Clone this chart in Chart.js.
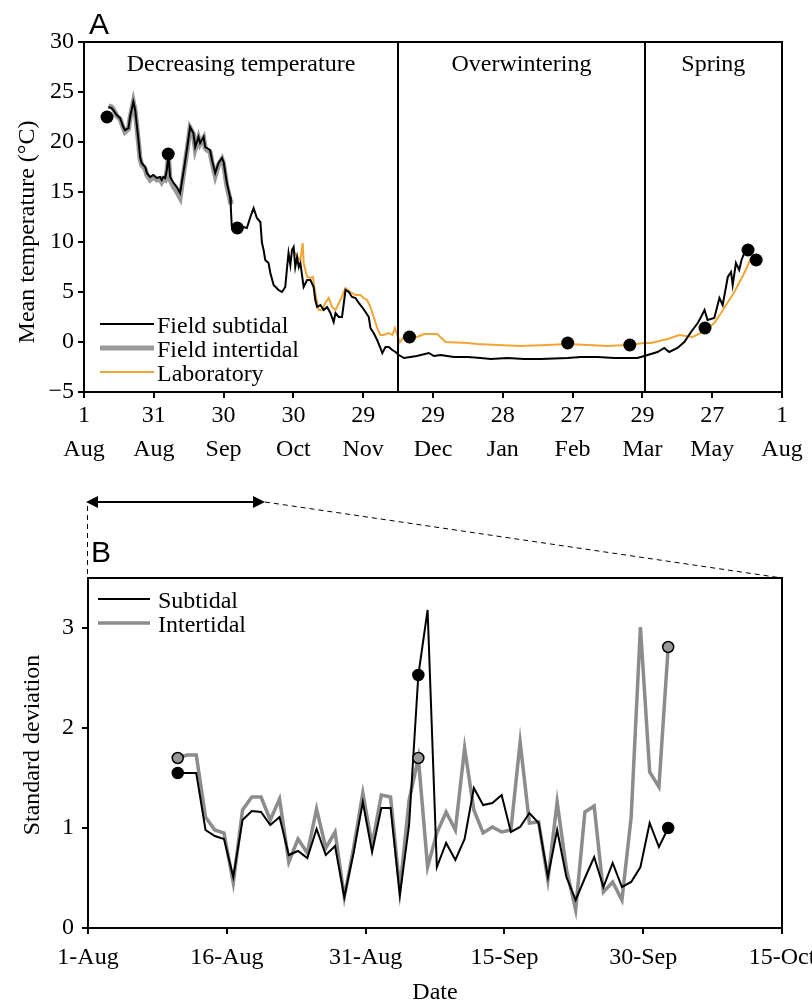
<!DOCTYPE html>
<html>
<head>
<meta charset="utf-8">
<script src="https://cdn.jsdelivr.net/npm/chart.js@4.4.1/dist/chart.umd.min.js"></script>
<style>
html, body { margin: 0; padding: 0; background: #fff; }
#wrap { position: relative; width: 812px; height: 1004px; }
canvas { position: absolute; left: 0; }
#chartA { top: 0; }
#chartB { top: 470px; }
</style>
</head>
<body>
<div id="wrap">
<canvas id="chartA" width="812" height="470"></canvas>
<canvas id="chartB" width="812" height="534"></canvas>
</div>
<script>
// ---- panel A: mean temperature ----
const aTickDays = [0, 30, 60, 90, 120, 150, 180, 210, 240, 270, 300];
const aTickLabels = [['1', 'Aug'], ['31', 'Aug'], ['30', 'Sep'], ['30', 'Oct'], ['29', 'Nov'], ['29', 'Dec'],
    ['28', 'Jan'], ['27', 'Feb'], ['29', 'Mar'], ['27', 'May'], ['1', 'Aug']];
const seasonBreaks = [135, 241];
const seasonNames = ['Decreasing temperature', 'Overwintering', 'Spring'];

const subtidalDays = [10.5, 11.9, 12.6, 14.1, 15.5, 16.9, 17.6, 19.1, 19.8, 21.2, 22.0, 23.4, 24.1, 24.8, 26.3, 27.0,
    28.4, 29.8, 31.3, 32.7, 33.4, 34.1, 34.9, 35.6, 36.3, 37.0, 38.5, 39.9, 41.3, 42.7, 44.2, 45.6, 47.0, 47.8, 49.2,
    49.9, 51.4, 52.1, 52.8, 54.2, 55.0, 56.4, 57.8, 59.3, 60.0, 61.4, 62.8, 63.1, 63.5, 65.0, 67.2, 68.6, 70.0, 71.5,
    72.9, 74.3, 75.8, 76.5, 77.2, 77.9, 79.3, 80.1, 81.5, 83.6, 85.1, 86.5, 87.3, 87.9, 88.7, 89.4, 90.1, 90.8, 91.6,
    92.3, 93.0, 94.4, 95.9, 97.3, 98.7, 99.4, 100.2, 101.6, 103.0, 104.5, 105.9, 107.3, 108.1, 109.5, 110.9, 112.4,
    113.8, 115.2, 116.7, 118.1, 119.5, 121.0, 122.4, 123.1, 124.5, 126.0, 127.4, 128.2, 129.6, 131.0, 132.5, 133.9,
    135.3, 136.8, 137.5, 140.3, 143.0, 148.2, 150.4, 153.3, 156.1, 159.0, 165.0, 170.5, 174.8, 182.0, 189.1, 196.3,
    207.8, 213.5, 220.7, 227.9, 237.9, 242.2, 246.5, 249.4, 251.5, 255.1, 258.0, 260.9, 263.8, 265.2, 266.7, 268.0,
    270.9, 273.1, 274.5, 276.7, 278.1, 278.8, 280.2, 281.6, 282.6, 283.8, 285.2];
const subtidalTemp = [23.5, 23.4, 23.2, 22.7, 22.4, 21.5, 21.2, 21.4, 22.5, 24.0, 23.2, 20.2, 18.5, 17.9, 17.5, 16.9,
    16.5, 16.7, 16.4, 16.5, 16.2, 16.5, 16.4, 17.2, 18.7, 16.5, 15.9, 15.5, 14.9, 16.9, 19.2, 21.5, 20.9, 19.5, 20.5,
    19.9, 20.5, 19.5, 19.4, 19.2, 18.2, 16.9, 17.9, 18.4, 18.0, 15.9, 14.5, 13.5, 11.6, 11.3, 11.2, 11.5, 11.4, 12.5,
    13.4, 12.4, 12.0, 9.9, 9.2, 8.2, 7.9, 6.9, 5.7, 5.2, 5.0, 5.5, 7.5, 8.9, 7.7, 9.2, 9.5, 7.5, 8.5,
    7.5, 7.9, 5.5, 6.2, 6.2, 5.5, 4.2, 3.5, 3.7, 3.2, 3.5, 2.9, 2.0, 2.9, 2.5, 2.5, 5.2,
    5.0, 4.5, 4.4, 3.9, 3.5, 3.0, 2.5, 1.4, 0.9, 0.2, -0.6, -1.1, -0.5, -0.5, -0.8, -1.0,
    -1.3, -1.5, -1.6, -1.5, -1.4, -1.1, -1.4, -1.3, -1.4, -1.5, -1.5, -1.6, -1.7, -1.6, -1.7, -1.7,
    -1.6, -1.5, -1.5, -1.6, -1.6, -1.3, -1.0, -0.6, -1.0, -0.6, 0.0, 1.0, 1.9, 2.5, 3.2, 2.2,
    2.4, 4.4, 3.7, 6.5, 7.0, 5.7, 7.9, 7.2, 8.2, 8.9, 9.2];

const intertidalDays = [10.5, 11.9, 12.6, 14.1, 15.5, 16.9, 17.6, 19.1, 19.8, 21.2, 22.0, 23.4, 24.1, 24.8, 26.3, 27.0,
    28.4, 29.8, 31.3, 32.7, 33.4, 34.1, 34.9, 35.6, 36.3, 37.0, 38.5, 39.9, 41.3, 42.7, 44.2, 45.6, 47.0, 47.8, 49.2,
    49.9, 51.4, 52.1, 52.8, 54.2, 55.0, 56.4, 57.8, 59.3, 60.0, 61.4, 62.8, 63.1];
const intertidalTemp = [23.6, 23.5, 23.3, 22.6, 22.3, 21.4, 21.0, 21.3, 22.4, 24.0, 23.1, 20.0, 18.3, 17.7, 17.3, 16.7,
    16.2, 16.5, 16.2, 16.3, 16.0, 16.3, 16.2, 17.0, 18.6, 16.2, 15.5, 15.0, 14.4, 16.7, 19.0, 21.4, 20.8, 19.3, 20.4,
    19.8, 20.4, 19.4, 19.2, 19.0, 18.0, 16.6, 17.7, 18.3, 17.8, 15.6, 14.2, 13.8];

const labDays = [90.1, 91.6, 93.0, 94.0, 94.4, 95.9, 97.3, 98.4, 99.4, 100.9, 102.3, 103.7, 105.2, 106.6, 108.1, 110.2,
    112.4, 114.5, 116.7, 118.8, 120.2, 121.7, 123.1, 124.5, 126.0, 127.4, 128.8, 131.0, 132.5, 133.6, 134.6, 135.7,
    137.5, 143.2, 146.1, 151.8, 155.4, 164.7, 169.1, 177.7, 187.7, 199.2, 207.8, 216.4, 225.0, 233.6, 240.8, 243.7,
    250.9, 255.8, 261.6, 265.2, 270.9, 273.8, 279.5, 283.8, 286.5];
const labTemp = [9.2, 8.5, 8.2, 9.9, 7.9, 6.5, 6.4, 6.5, 4.9, 3.2, 3.2, 3.9, 4.4, 3.5, 3.2, 4.2,
    5.4, 5.0, 4.7, 4.7, 4.4, 4.2, 3.5, 2.5, 1.4, 0.7, 0.7, 0.9, 0.7, 1.4, 0.7, 0.0,
    0.5, 0.5, 0.8, 0.8, 0.0, -0.1, -0.2, -0.3, -0.4, -0.3, -0.2, -0.3, -0.4, -0.3, -0.1, -0.1,
    0.3, 0.7, 0.5, 0.9, 1.9, 2.9, 5.0, 6.9, 8.3];

const sampleDays = [9.9, 36.2, 65.9, 139.9, 207.9, 234.6, 266.9, 285.4, 288.9];
const sampleTemp = [22.5, 18.8, 11.4, 0.5, -0.1, -0.3, 1.4, 9.2, 8.2];

// ---- panel B: daily standard deviation ----
const bTickDays = [0, 15, 30, 45, 60, 75];
const bTickLabels = ['1-Aug', '16-Aug', '31-Aug', '15-Sep', '30-Sep', '15-Oct'];
const bStartDay = 9.7;
const subtidalSD = [1.55, 1.55, 1.55, 0.98, 0.92, 0.89, 0.51, 1.08, 1.17, 1.16, 1.03, 1.11, 0.73, 0.77, 0.70, 0.99,
    0.73, 0.82, 0.31, 0.75, 1.26, 0.76, 1.20, 1.20, 0.33, 1.03, 2.53, 3.18, 0.61, 0.85, 0.68, 0.89, 1.40, 1.23, 1.25,
    1.33, 0.96, 1.01, 1.15, 1.05, 0.51, 0.98, 0.51, 0.28, 0.50, 0.71, 0.41, 0.65, 0.41, 0.46, 0.61, 1.05, 0.81, 1.00];
const intertidalSD = [1.70, 1.73, 1.73, 1.11, 0.98, 0.95, 0.45, 1.18, 1.31, 1.31, 1.08, 1.29, 0.66, 0.89, 0.75, 1.19,
    0.80, 0.96, 0.31, 0.80, 1.35, 0.83, 1.33, 1.31, 0.38, 1.28, 1.70, 0.61, 0.95, 1.16, 0.98, 1.80, 1.18, 0.95, 1.01,
    0.96, 0.98, 1.86, 1.05, 1.06, 0.48, 1.26, 0.59, 0.18, 1.16, 1.22, 0.36, 0.46, 0.28, 1.11, 3.01, 1.56, 1.41, 2.81];
const bSampleIdx = [0, 26, 53];

const serif = "'Liberation Serif', 'Times New Roman', serif";
const sans = "'Liberation Sans', Arial, sans-serif";
const orange = '#f2a535';
const fs = 24;

Chart.defaults.font.family = serif;
Chart.defaults.font.size = fs;
Chart.defaults.color = '#000';

function pairs(xs, ys) {
    return xs.map((x, i) => ({ x: x, y: ys[i] }));
}

function fixSize(w, h) {
    return function(scale) {
        if (w !== null) scale.width = w;
        if (h !== null) scale.height = h;
        scale.paddingLeft = 0; scale.paddingRight = 0;
        scale.paddingTop = 0; scale.paddingBottom = 0;
    };
}

function setTicks(values) {
    return function(scale) {
        scale.ticks = values.map(v => ({ value: v }));
    };
}

const axisGrid = { drawOnChartArea: false, drawTicks: true, tickLength: 6, color: '#000', lineWidth: 2 };
const axisBorder = { display: true, color: '#000', width: 2 };

function drawLegend(ctx, x, y, gap, items) {
    ctx.save();
    ctx.font = fs + 'px ' + serif;
    ctx.textAlign = 'left';
    ctx.textBaseline = 'alphabetic';
    items.forEach((it, i) => {
        const yy = y + i * gap;
        ctx.strokeStyle = it.color;
        ctx.lineWidth = it.width;
        ctx.beginPath();
        ctx.moveTo(x, yy);
        ctx.lineTo(x + it.len, yy);
        ctx.stroke();
        ctx.fillStyle = '#000';
        ctx.fillText(it.label, x + it.len + it.gapText, yy + 9);
    });
    ctx.restore();
}

const panelA = {
    id: 'panelA',
    afterDraw(chart) {
        const ctx = chart.ctx, a = chart.chartArea, xs = chart.scales.x;
        ctx.save();
        ctx.strokeStyle = '#000';
        ctx.lineWidth = 2;
        ctx.strokeRect(a.left, a.top, a.right - a.left, a.bottom - a.top);
        seasonBreaks.forEach(d => {
            const px = Math.round(xs.getPixelForValue(d));
            ctx.beginPath();
            ctx.moveTo(px, a.top);
            ctx.lineTo(px, a.bottom);
            ctx.stroke();
        });
        const bounds = [xs.min].concat(seasonBreaks, [xs.max]);
        ctx.font = fs + 'px ' + serif;
        ctx.fillStyle = '#000';
        ctx.textAlign = 'center';
        ctx.textBaseline = 'alphabetic';
        seasonNames.forEach((n, i) => {
            const cx = xs.getPixelForValue((bounds[i] + bounds[i + 1]) / 2);
            ctx.fillText(n, cx, a.top + 29);
        });
        ctx.font = '30px ' + sans;
        ctx.textAlign = 'left';
        ctx.fillText('A', 89, 34);
        ctx.font = fs + 'px ' + serif;
        ctx.translate(28, 232);
        ctx.rotate(-Math.PI / 2);
        ctx.textAlign = 'center';
        ctx.textBaseline = 'middle';
        ctx.fillText('Mean temperature (\u00B0C)', 0, 0);
        ctx.restore();
        drawLegend(ctx, 100, 324, 24, [
            { label: 'Field subtidal', color: '#000', width: 2, len: 54, gapText: 3 },
            { label: 'Field intertidal', color: '#999', width: 5, len: 54, gapText: 3 },
            { label: 'Laboratory', color: orange, width: 2, len: 54, gapText: 3 }
        ]);
    }
};

new Chart(document.getElementById('chartA'), {
    type: 'line',
    data: {
        datasets: [
            { data: pairs(intertidalDays, intertidalTemp), borderColor: '#999', borderWidth: 5, pointRadius: 0, order: 4 },
            { data: pairs(labDays, labTemp), borderColor: orange, borderWidth: 2, pointRadius: 0, order: 3 },
            { data: pairs(subtidalDays, subtidalTemp), borderColor: '#000', borderWidth: 2, pointRadius: 0, order: 2 },
            { type: 'scatter', data: pairs(sampleDays, sampleTemp), backgroundColor: '#000', borderColor: '#000',
              pointRadius: 6.5, borderWidth: 0, order: 1 }
        ]
    },
    options: {
        responsive: false,
        animation: false,
        layout: { padding: { left: 0, right: 30, top: 42, bottom: 0 } },
        plugins: { legend: { display: false }, tooltip: { enabled: false } },
        elements: { line: { tension: 0, fill: false } },
        scales: {
            x: {
                type: 'linear', min: 0, max: 300,
                grid: axisGrid, border: axisBorder,
                afterBuildTicks: setTicks(aTickDays),
                afterFit: fixSize(null, 78),
                ticks: {
                    autoSkip: false, maxRotation: 0, padding: 1,
                    font: { size: fs, lineHeight: 1.4 },
                    callback: (v) => aTickLabels[aTickDays.indexOf(v)]
                }
            },
            y: {
                min: -5, max: 30,
                grid: axisGrid, border: axisBorder,
                afterFit: fixSize(84, null),
                ticks: {
                    stepSize: 5, padding: 4,
                    callback: (v) => (v < 0 ? '\u2212' + Math.abs(v) : String(v))
                }
            }
        }
    },
    plugins: [panelA]
});

const panelB = {
    id: 'panelB',
    afterDraw(chart) {
        const ctx = chart.ctx, a = chart.chartArea;
        const off = 470;
        ctx.save();
        ctx.strokeStyle = '#000';
        ctx.lineWidth = 2;
        ctx.strokeRect(a.left, a.top, a.right - a.left, a.bottom - a.top);

        // arrow showing the span of panel B on panel A's axis
        const ay = 502 - off, ax0 = 86, ax1 = 265;
        ctx.lineWidth = 2;
        ctx.beginPath();
        ctx.moveTo(ax0 + 8, ay);
        ctx.lineTo(ax1 - 8, ay);
        ctx.stroke();
        ctx.fillStyle = '#000';
        ctx.beginPath();
        ctx.moveTo(ax0, ay); ctx.lineTo(ax0 + 12, ay - 6); ctx.lineTo(ax0 + 12, ay + 6); ctx.closePath();
        ctx.fill();
        ctx.beginPath();
        ctx.moveTo(ax1, ay); ctx.lineTo(ax1 - 12, ay - 6); ctx.lineTo(ax1 - 12, ay + 6); ctx.closePath();
        ctx.fill();

        ctx.lineWidth = 1;
        ctx.setLineDash([5, 4]);
        ctx.beginPath();
        ctx.moveTo(a.left - 0.5, ay + 4);
        ctx.lineTo(a.left - 0.5, a.top);
        ctx.moveTo(ax1, ay);
        ctx.lineTo(a.right, a.top);
        ctx.stroke();
        ctx.setLineDash([]);

        ctx.font = '30px ' + sans;
        ctx.textAlign = 'left';
        ctx.textBaseline = 'alphabetic';
        ctx.fillText('B', 91, 562 - off);

        ctx.font = fs + 'px ' + serif;
        ctx.textAlign = 'center';
        ctx.textBaseline = 'middle';
        ctx.fillText('Date', (a.left + a.right) / 2, 993 - off);
        ctx.translate(33, 745 - off);
        ctx.rotate(-Math.PI / 2);
        ctx.fillText('Standard deviation', 0, 0);
        ctx.restore();

        drawLegend(ctx, 98, 599 - off, 24, [
            { label: 'Subtidal', color: '#000', width: 2, len: 52, gapText: 8 },
            { label: 'Intertidal', color: '#8c8c8c', width: 3.5, len: 52, gapText: 8 }
        ]);
    }
};

const bSubtidal = subtidalSD.map((v, i) => ({ x: bStartDay + i, y: v }));
const bIntertidal = intertidalSD.map((v, i) => ({ x: bStartDay + i, y: v }));

new Chart(document.getElementById('chartB'), {
    type: 'line',
    data: {
        datasets: [
            { data: bIntertidal, borderColor: '#8c8c8c', borderWidth: 3.5, pointRadius: 0, order: 4 },
            { data: bSubtidal, borderColor: '#000', borderWidth: 2, pointRadius: 0, order: 3 },
            { type: 'scatter', data: bSampleIdx.map(i => bIntertidal[i]), backgroundColor: '#999',
              borderColor: '#000', borderWidth: 1.5, pointRadius: 5.5, order: 2 },
            { type: 'scatter', data: bSampleIdx.map(i => bSubtidal[i]), backgroundColor: '#000',
              borderColor: '#000', borderWidth: 1.5, pointRadius: 5.5, order: 1 }
        ]
    },
    options: {
        responsive: false,
        animation: false,
        layout: { padding: { left: 0, right: 30, top: 108, bottom: 0 } },
        plugins: { legend: { display: false }, tooltip: { enabled: false } },
        elements: { line: { tension: 0, fill: false } },
        scales: {
            x: {
                type: 'linear', min: 0, max: 75,
                grid: axisGrid, border: axisBorder,
                afterBuildTicks: setTicks(bTickDays),
                afterFit: fixSize(null, 76),
                ticks: {
                    autoSkip: false, maxRotation: 0, padding: 9,
                    callback: (v) => bTickLabels[bTickDays.indexOf(v)]
                }
            },
            y: {
                min: 0, max: 3.5,
                grid: axisGrid, border: axisBorder,
                afterBuildTicks: setTicks([0, 1, 2, 3]),
                afterFit: fixSize(88, null),
                ticks: { padding: 8 }
            }
        }
    },
    plugins: [panelB]
});
</script>
</body>
</html>
